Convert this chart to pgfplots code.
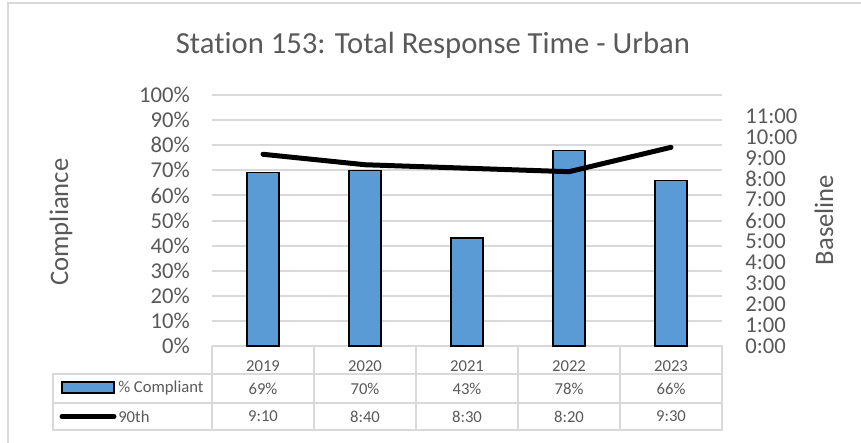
\documentclass[border=0pt]{standalone}
\usepackage{pgfplots}
\pgfplotsset{compat=1.18}
\usepackage{fontspec}
\setmainfont{Carlito}[Ligatures={NoCommon}]
\definecolor{txt}{HTML}{595959}
\definecolor{gridc}{HTML}{D9D9D9}
\definecolor{barc}{HTML}{5B9BD5}
\begin{document}
\begin{tikzpicture}[x=0.75pt,y=-0.75pt]
\path[use as bounding box] (0,0) rectangle (861,443);
% chart frame
\draw[gridc, line width=1.5pt] (8,443) -- (8,3) -- (861,3);
\node[txt, font=\fontsize{23}{27}\selectfont] at (433,45) {Station 153: Total Response Time - Urban};
\node[txt, rotate=90, font=\fontsize{20}{24}\selectfont] at (61,222) {Compliance};
\node[txt, rotate=90, font=\fontsize{20}{24}\selectfont] at (824,220) {Baseline};

% data table grid
\draw[gridc, line width=1.2pt] (212,346) -- (722,346) -- (722,430) -- (53,430) -- (53,374) -- (722,374);
\draw[gridc, line width=1.2pt] (53,403) -- (722,403);
\foreach \c in {212,314,416,518,620} \draw[gridc, line width=1.2pt] (\c,346) -- (\c,430);

% legend keys
\draw[fill=barc, draw=black, line width=0.9pt] (62,382) rectangle (114,393);
\draw[black, line width=3.75pt, line cap=round] (62,416.5) -- (114,416.5);
\node[txt, anchor=west, inner sep=0pt, font=\fontsize{12.5}{14}\selectfont] at (118,388.5) {\% Compliant};
\node[txt, anchor=west, inner sep=0pt, font=\fontsize{12.5}{14}\selectfont] at (118,416.5) {90th};
\foreach \v [count=\i from 0] in {69\%,70\%,43\%,78\%,66\%}
  \node[txt, font=\fontsize{12.5}{14}\selectfont] at ({263+102*\i},388.5) {\v};
\foreach \v [count=\i from 0] in {9:10,8:40,8:30,8:20,9:30}
  \node[txt, font=\fontsize{12.5}{14}\selectfont] at ({263+102*\i},416.5) {\v};

\begin{axis}[
    at={(159pt,-259.5pt)}, anchor=south west,
    width=382.5pt, height=188.25pt, scale only axis,
    xmin=-0.5, xmax=4.5, ymin=0, ymax=100,
    ybar, bar width=24pt,
    axis line style={draw=none}, tick style={draw=none},
    ytick={0,10,...,100},
    yticklabels={0\%,10\%,20\%,30\%,40\%,50\%,60\%,70\%,80\%,90\%,100\%},
    ymajorgrids, grid style={gridc, line width=1.5pt},
    xtick={0,1,2,3,4},
    xticklabels={2019,2020,2021,2022,2023},
    xticklabel style={txt, font=\fontsize{12.5}{14}\selectfont, anchor=center, yshift=-10.5pt},
    yticklabel style={txt, font=\fontsize{17}{20}\selectfont, anchor=east, inner sep=0pt, xshift=-16.5pt},
]
\addplot[fill=barc, draw=black, line width=0.9pt] coordinates {
    (0,69) (1,70) (2,43) (3,78) (4,66)
};
\end{axis}

\begin{axis}[
    at={(159pt,-259.5pt)}, anchor=south west,
    width=382.5pt, height=188.25pt, scale only axis,
    xmin=-0.5, xmax=4.5, ymin=0, ymax=720,
    axis y line*=right, hide x axis,
    axis line style={draw=none}, tick style={draw=none},
    ytick={0,60,...,660},
    yticklabels={0:00,1:00,2:00,3:00,4:00,5:00,6:00,7:00,8:00,9:00,10:00,11:00},
    yticklabel style={txt, font=\fontsize{17}{20}\selectfont, anchor=west, inner sep=0pt, xshift=17.25pt},
]
% 90th percentile in minutes
\addplot[black, line width=3.75pt, line cap=round, line join=round] coordinates {
    (0,550) (1,520) (2,510) (3,500) (4,570)
};
\end{axis}
\end{tikzpicture}
\end{document}
